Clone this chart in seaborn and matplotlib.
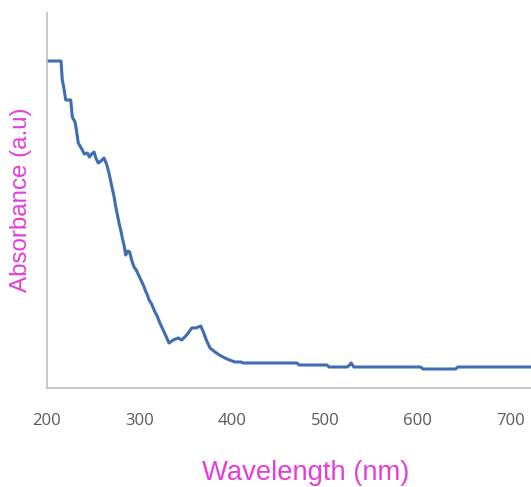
import matplotlib
matplotlib.use("Agg")
import matplotlib.pyplot as plt
import seaborn as sns
import pandas as pd

# Data (UV-Vis absorbance spectrum)
wavelength = [200, 215.4, 216.8, 218.5, 220.5, 225.9, 227.6, 230.5, 232.0, 234.0, 238.4,
              240.5, 243.8, 246.0, 248.5, 251.0, 253.0, 255.6, 258.5, 261.7, 264.5,
              267.1, 270.5, 272.5, 274.4, 276.0, 277.9, 280.0, 281.5, 283.5, 285.1,
              287.5, 289.4, 291.5, 294.1, 296.5, 298.5, 300.5, 303.0, 305.0, 306.5,
              308.5, 310.3, 313.0, 316.7, 319.0, 322.0, 326.0, 331.8, 336.4, 341.8,
              345.5, 350.9, 356.3, 360.0, 363.4, 366.0, 368.8, 372.0, 376.0, 381.4,
              386.0, 392.1, 397.0, 402.7, 409.4, 412.0, 469.7, 471.9, 502.0, 504.3,
              523.6, 526.5, 528.0, 529.5, 531.0, 603.0, 605.5, 640.7, 643.0, 725.0]
absorbance = [3.27, 3.27, 3.08, 3.00, 2.88, 2.88, 2.71, 2.66, 2.58, 2.45, 2.38,
              2.34, 2.35, 2.31, 2.34, 2.36, 2.30, 2.25, 2.27, 2.30, 2.24,
              2.15, 2.00, 1.92, 1.81, 1.74, 1.65, 1.57, 1.50, 1.42, 1.33,
              1.37, 1.36, 1.28, 1.21, 1.18, 1.14, 1.10, 1.05, 1.01, 0.97,
              0.93, 0.88, 0.84, 0.76, 0.72, 0.65, 0.57, 0.45, 0.48, 0.50,
              0.48, 0.53, 0.60, 0.60, 0.61, 0.62, 0.56, 0.48, 0.40, 0.36,
              0.33, 0.30, 0.28, 0.26, 0.26, 0.25, 0.25, 0.23, 0.23, 0.21,
              0.21, 0.23, 0.25, 0.23, 0.21, 0.21, 0.19, 0.19, 0.21, 0.21]
x_ticks = [200, 300, 400, 500, 600, 700]

df = pd.DataFrame({"Wavelength (nm)": wavelength, "Absorbance (a.u)": absorbance})

sns.set_style("white")
plt.rcParams["font.family"] = ["Liberation Sans", "DejaVu Sans"]

W, H = 531, 487
fig = plt.figure(figsize=(W / 100, H / 100), dpi=100)
ax_left, ax_bottom_px, ax_top_px = 46.7, 388, 13
ax = fig.add_axes([ax_left / W, (H - ax_bottom_px) / H,
                   (W - ax_left) / W, (ax_bottom_px - ax_top_px) / H])

sns.lineplot(data=df, x="Wavelength (nm)", y="Absorbance (a.u)", ax=ax,
             color="#3F6DB3", linewidth=2.2, estimator=None, sort=False)

px_per_nm = 0.928
ax.set_xlim(200, 200 + (W - ax_left) / px_per_nm)
ax.set_ylim(0, (ax_bottom_px - ax_top_px) / 100)
ax.set_xticks(x_ticks)
ax.set_xticklabels([str(t) for t in x_ticks], fontfamily="Open Sans",
                   fontsize=12, color="#595959")
ax.tick_params(axis="x", length=0, pad=18)
ax.set_yticks([])

for s in ["top", "right"]:
    ax.spines[s].set_visible(False)
for s in ["left", "bottom"]:
    ax.spines[s].set_color("#BFBFBF")
    ax.spines[s].set_linewidth(1.2)

magenta = "#E63CDB"
ax.set_xlabel("Wavelength (nm)", fontsize=19.7, color=magenta)
ax.set_ylabel("Absorbance (a.u)", fontsize=17.4, color=magenta)
ax.xaxis.label.set_va("center")
ax.yaxis.label.set_va("center")
ax.xaxis.set_label_coords((306 - ax_left) / (W - ax_left),
                          (ax_bottom_px - 473) / (ax_bottom_px - ax_top_px))
ax.yaxis.set_label_coords((21 - ax_left) / (W - ax_left),
                          (ax_bottom_px - 200) / (ax_bottom_px - ax_top_px))

fig.savefig("out.png", dpi=100)
